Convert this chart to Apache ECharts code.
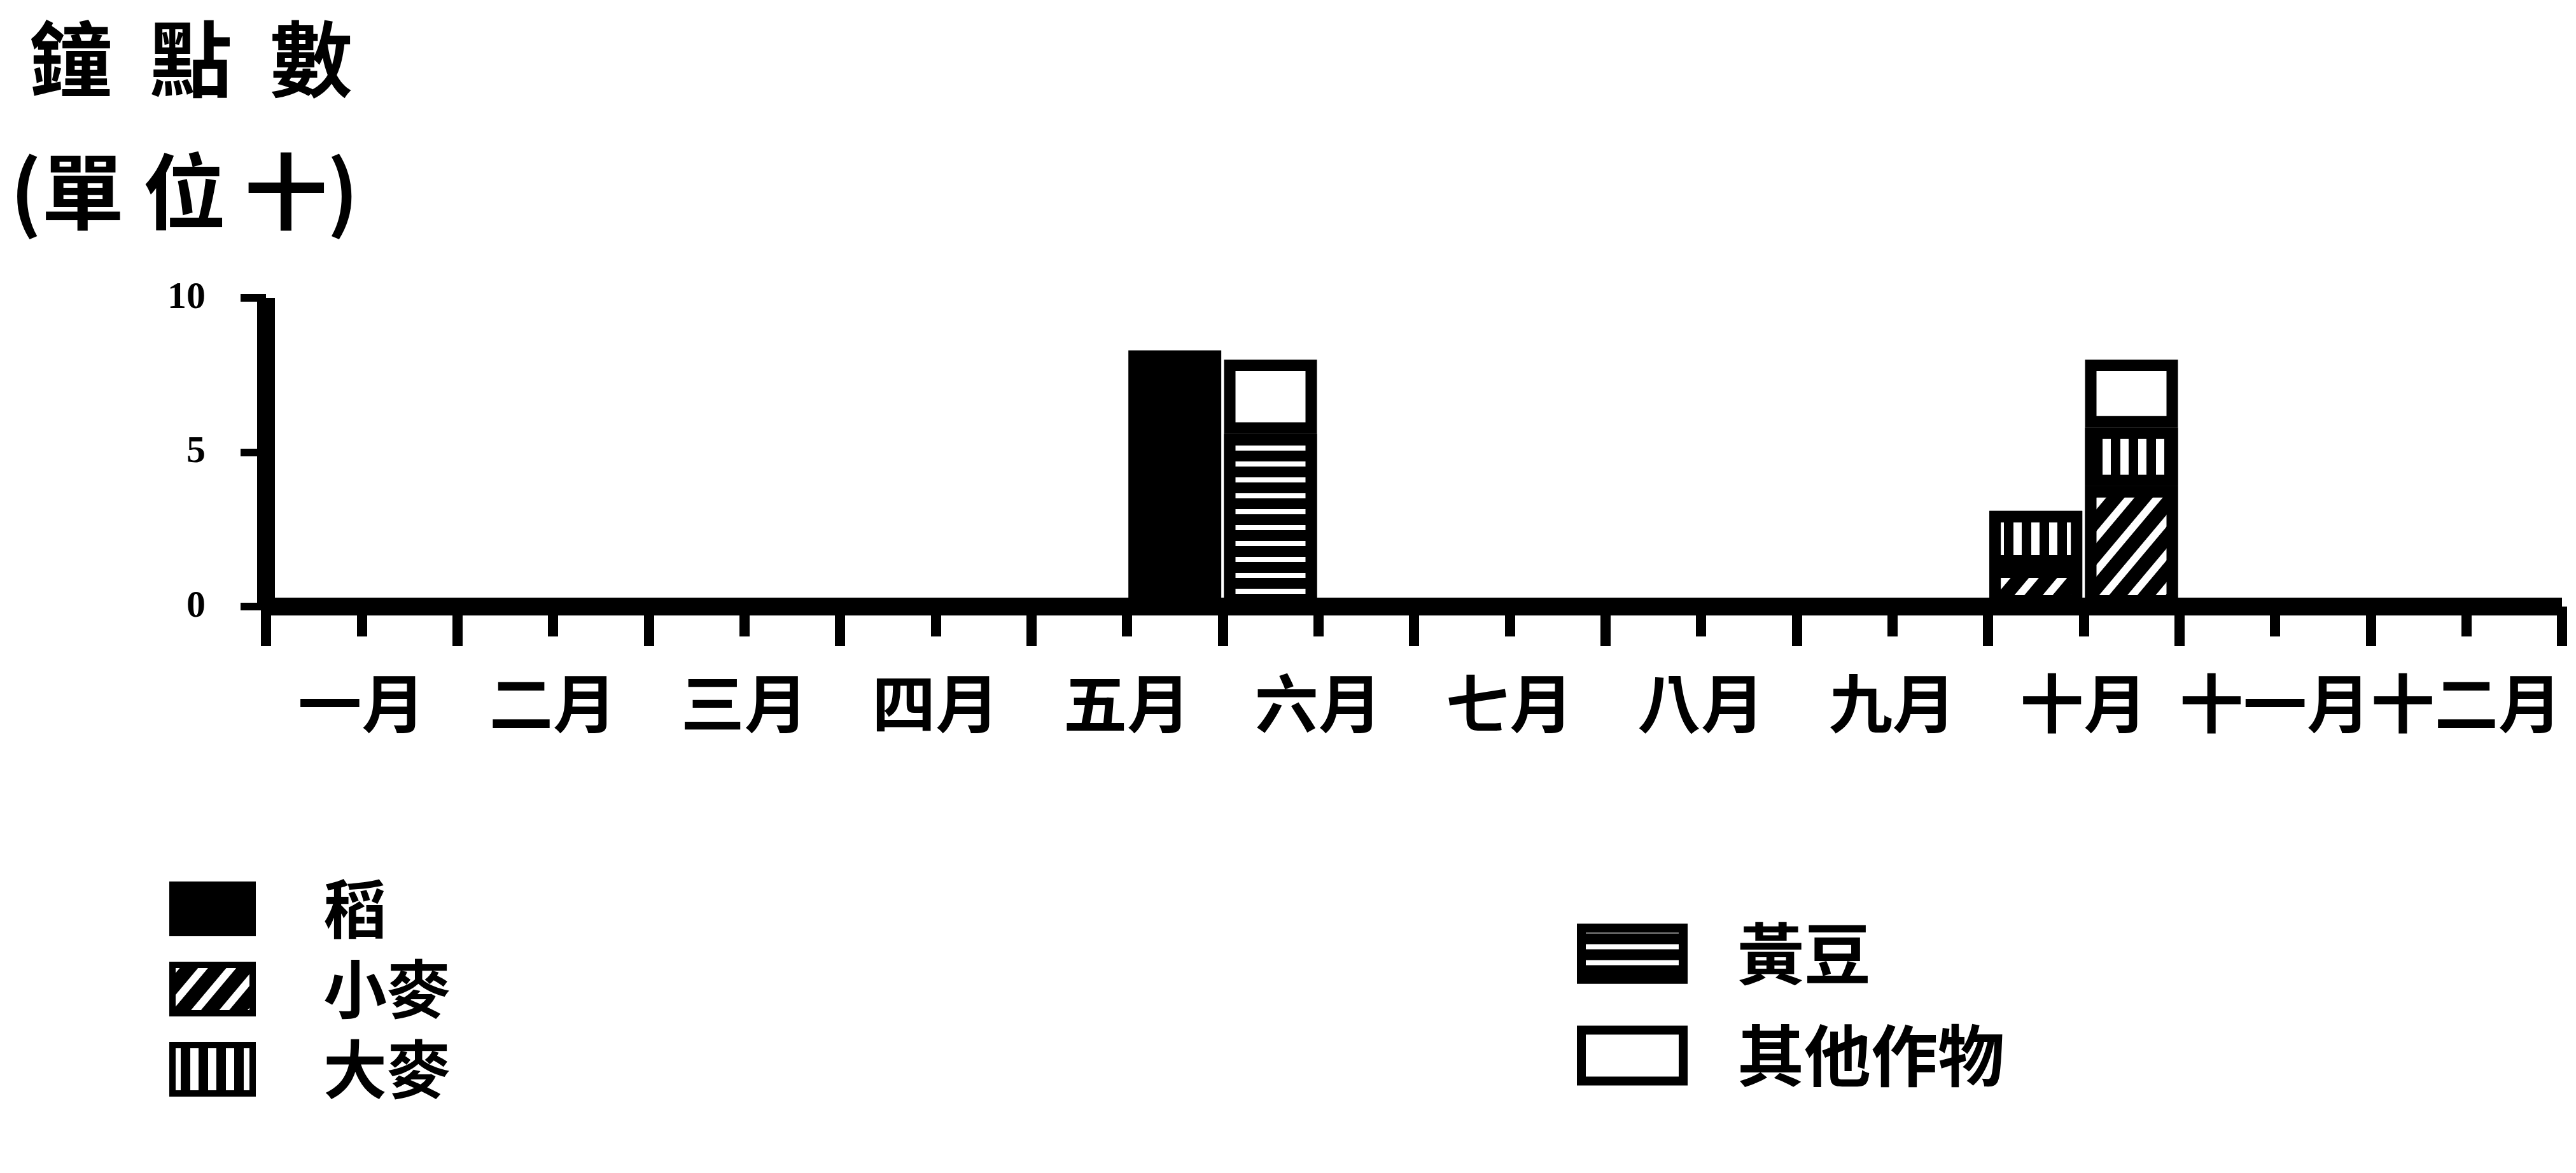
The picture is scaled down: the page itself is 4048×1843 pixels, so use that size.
<!DOCTYPE html>
<html>
<head>
<meta charset="utf-8">
<script src="https://cdn.jsdelivr.net/npm/echarts@6/dist/echarts.min.js"></script>
<style>
  html, body { margin: 0; background: #fff; }
  #main { width: 4048px; height: 1843px; }
</style>
</head>
<body>
<div id="main"></div>
<script>
const cjk = "'Noto Sans CJK TC', sans-serif";

const months = ["一月", "二月", "三月", "四月", "五月", "六月", "七月", "八月", "九月", "十月", "十一月", "十二月"];
// each month split in halves (上 = 1st-15th, 下 = 16th-end)
const halfMonths = months.flatMap(m => [m + "上", m + "下"]);

// hours, in tens
const rice = [["五月下", 8.3]];
const wheat = [["十月上", 1.3], ["十月下", 3.9]];
const barley = [["十月上", 1.8], ["十月下", 1.9]];
const soybean = [["六月上", 5.6]];
const others = [["六月上", 2.4], ["十月下", 2.2]];

const leftLegend = ["稻", "小麥", "大麥"];
const rightLegend = ["黃豆", "其他作物"];

const border = { borderColor: "#000", borderWidth: 18 };

function bar(name, data, itemStyle) {
  return {
    name: name,
    type: "bar",
    stack: "hours",
    barWidth: 146,
    data: data,
    itemStyle: Object.assign({}, border, itemStyle)
  };
}

var myChart = echarts.init(document.getElementById("main"));
myChart.setOption({
  backgroundColor: "#fff",
  animation: false,
  title: [
    { text: "鐘  點  數", left: 46, top: 28, padding: 0,
      textStyle: { fontSize: 130, fontWeight: "bold", fontFamily: cjk, color: "#000" } },
    { text: "(單 位 十)", left: 16, top: 236, padding: 0,
      textStyle: { fontSize: 130, fontWeight: "bold", fontFamily: cjk, color: "#000" } }
  ],
  grid: { left: 418, right: 22, top: 468, bottom: 890 },
  legend: [
    {
      data: leftLegend, orient: "vertical", left: 266, top: 1378, padding: 0,
      icon: "rect", itemWidth: 126, itemHeight: 76, itemGap: 26, selectedMode: false,
      itemStyle: { borderWidth: 10 },
      textStyle: { fontSize: 100, lineHeight: 100, fontWeight: "bold", fontFamily: cjk, color: "#000", padding: [0, 0, 0, 106] }
    },
    {
      data: rightLegend, orient: "vertical", left: 2478, top: 1446, padding: 0,
      icon: "rect", itemWidth: 160, itemHeight: 80, itemGap: 55, selectedMode: false,
      itemStyle: { borderWidth: 14 },
      textStyle: { fontSize: 105, lineHeight: 105, fontWeight: "bold", fontFamily: cjk, color: "#000", padding: [0, 0, 0, 80] }
    }
  ],
  xAxis: [
    {
      type: "category", data: halfMonths, position: "bottom",
      axisLine: { show: true, lineStyle: { color: "#000", width: 28, cap: "butt" } },
      axisTick: { show: true, interval: 0, length: 47, lineStyle: { color: "#000", width: 16 } },
      axisLabel: { show: false }
    },
    {
      type: "category", data: months, position: "bottom",
      axisLine: { show: false },
      axisTick: { show: true, interval: 0, length: 62, lineStyle: { color: "#000", width: 16 } },
      axisLabel: { interval: 0, margin: 102, fontSize: 100, fontWeight: "bold", fontFamily: cjk, color: "#000" }
    }
  ],
  yAxis: {
    type: "value", min: 0, max: 10, interval: 5,
    axisLine: { show: true, lineStyle: { color: "#000", width: 28, cap: "butt" } },
    axisTick: { show: true, length: 40, lineStyle: { color: "#000", width: 12 } },
    axisLabel: { margin: 95, fontSize: 60, fontWeight: "bold", fontFamily: "'Liberation Serif', serif", color: "#000" },
    splitLine: { show: false }
  },
  series: [
    bar("稻", rice, { color: "#000" }),
    bar("小麥", wheat, {
      color: "#000",
      decal: { symbol: "rect", symbolKeepAspect: false, color: "#fff",
               dashArrayX: [1, 0], dashArrayY: [12, 22], rotation: -Math.PI * 50 / 180 }
    }),
    bar("大麥", barley, {
      color: "#000",
      decal: { symbol: "rect", symbolKeepAspect: false, color: "#fff",
               dashArrayX: [13, 15], dashArrayY: [1, 0], rotation: 0 }
    }),
    bar("黃豆", soybean, {
      color: "#000",
      decal: { symbol: "rect", symbolKeepAspect: false, color: "#fff",
               dashArrayX: [1, 0], dashArrayY: [8, 17], rotation: 0 }
    }),
    bar("其他作物", others, { color: "#fff" })
  ]
});
window.onresize = function() {
  myChart.resize();
};
</script>
</body>
</html>
